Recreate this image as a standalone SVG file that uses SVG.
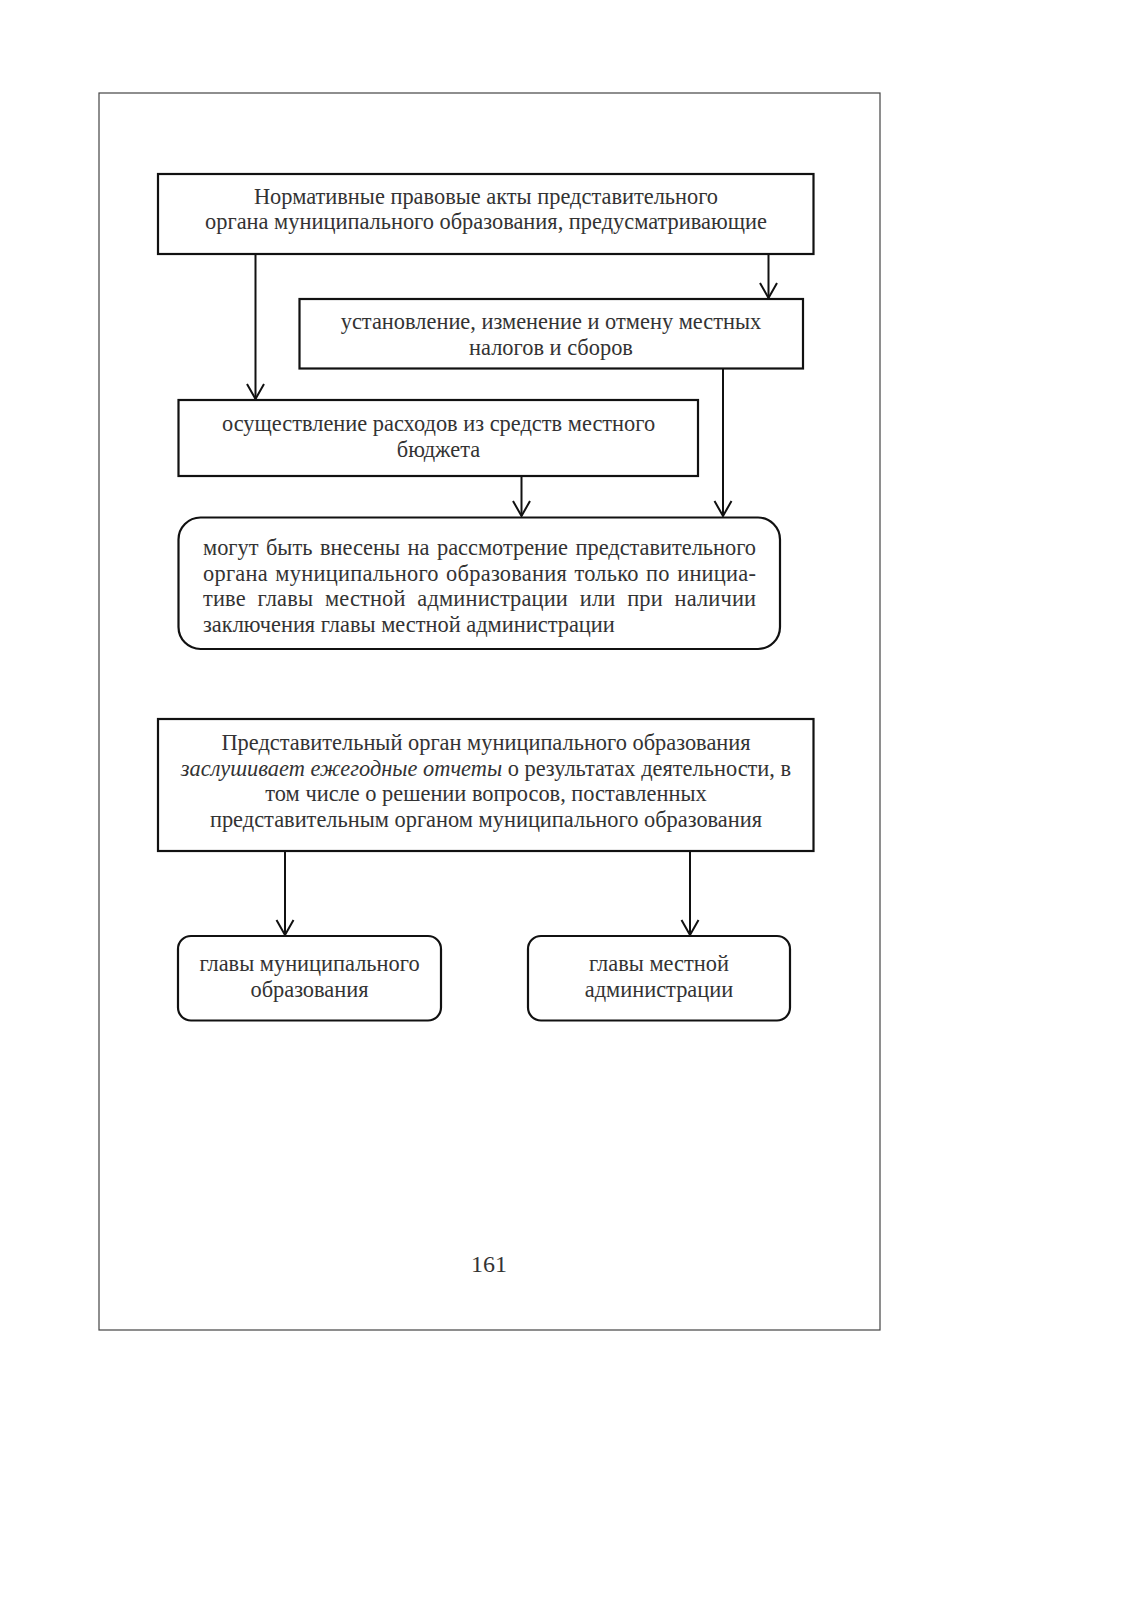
<svg xmlns="http://www.w3.org/2000/svg" width="1132" height="1600" viewBox="0 0 1132 1600">
<style>
.box{fill:#fff;stroke:#111;stroke-width:2.2}
.frame{fill:#fff;stroke:#444;stroke-width:1.2}
.t{font-family:"Liberation Serif","Times New Roman",serif;font-size:22.4px;fill:#333}
.c{text-anchor:middle}
.con{stroke:#111;stroke-width:2;fill:none}
</style>
<defs>
<marker id="ah" markerUnits="userSpaceOnUse" markerWidth="20" markerHeight="20" refX="0" refY="0" orient="auto" overflow="visible">
<path d="M-15,-8.5 L0,0 L-15,8.5" fill="none" stroke="#111" stroke-width="2"/>
</marker>
</defs>
<rect width="1132" height="1600" fill="#fff"/>
<rect class="frame" x="99" y="93" width="781" height="1237"/>

<g id="connectors">
<line class="con" x1="255.5" y1="255" x2="255.5" y2="399" marker-end="url(#ah)"/>
<line class="con" x1="768.5" y1="255" x2="768.5" y2="298" marker-end="url(#ah)"/>
<line class="con" x1="521.5" y1="477" x2="521.5" y2="516" marker-end="url(#ah)"/>
<line class="con" x1="723" y1="369" x2="723" y2="516" marker-end="url(#ah)"/>
<line class="con" x1="285" y1="852" x2="285" y2="935" marker-end="url(#ah)"/>
<line class="con" x1="690" y1="852" x2="690" y2="935" marker-end="url(#ah)"/>
</g>

<g id="node1">
<rect class="box" x="158" y="174" width="655.5" height="80"/>
<text class="t c" x="486" y="204">Нормативные правовые акты представительного</text>
<text class="t c" x="486" y="229">органа муниципального образования, предусматривающие</text>
</g>

<g id="node2">
<rect class="box" x="299.5" y="299" width="503.5" height="69.5"/>
<text class="t c" x="551" y="329">установление, изменение и отмену местных</text>
<text class="t c" x="551" y="355">налогов и сборов</text>
</g>

<g id="node3">
<rect class="box" x="178.5" y="400" width="519.5" height="76"/>
<text class="t c" x="438.5" y="431">осуществление расходов из средств местного</text>
<text class="t c" x="438.5" y="457">бюджета</text>
</g>

<g id="node4">
<rect class="box" x="178.5" y="517.5" width="601.5" height="131.5" rx="22" ry="22"/>
<text class="t" x="203" y="555" word-spacing="2" textLength="553" lengthAdjust="spacing">могут быть внесены на рассмотрение представительного</text>
<text class="t" x="203" y="581" word-spacing="1.5" textLength="553" lengthAdjust="spacing">органа муниципального образования только по инициа-</text>
<text class="t" x="203" y="606" word-spacing="6" textLength="553" lengthAdjust="spacing">тиве главы местной администрации или при наличии</text>
<text class="t" x="203" y="632">заключения главы местной администрации</text>
</g>

<g id="node5">
<rect class="box" x="158" y="719" width="655.5" height="132"/>
<text class="t c" x="486" y="750">Представительный орган муниципального образования</text>
<text class="t c" x="486" y="776"><tspan font-style="italic">заслушивает ежегодные отчеты</tspan> о результатах деятельности, в</text>
<text class="t c" x="486" y="801">том числе о решении вопросов, поставленных</text>
<text class="t c" x="486" y="827">представительным органом муниципального образования</text>
</g>

<g id="node6">
<rect class="box" x="178" y="936" width="263" height="84.5" rx="13" ry="13"/>
<text class="t c" x="309.5" y="971">главы муниципального</text>
<text class="t c" x="309.5" y="997">образования</text>
</g>

<g id="node7">
<rect class="box" x="528" y="936" width="262" height="84.5" rx="13" ry="13"/>
<text class="t c" x="659" y="971">главы местной</text>
<text class="t c" x="659" y="997">администрации</text>
</g>

<text class="t c" x="489" y="1272" style="font-size:24px">161</text>
</svg>
